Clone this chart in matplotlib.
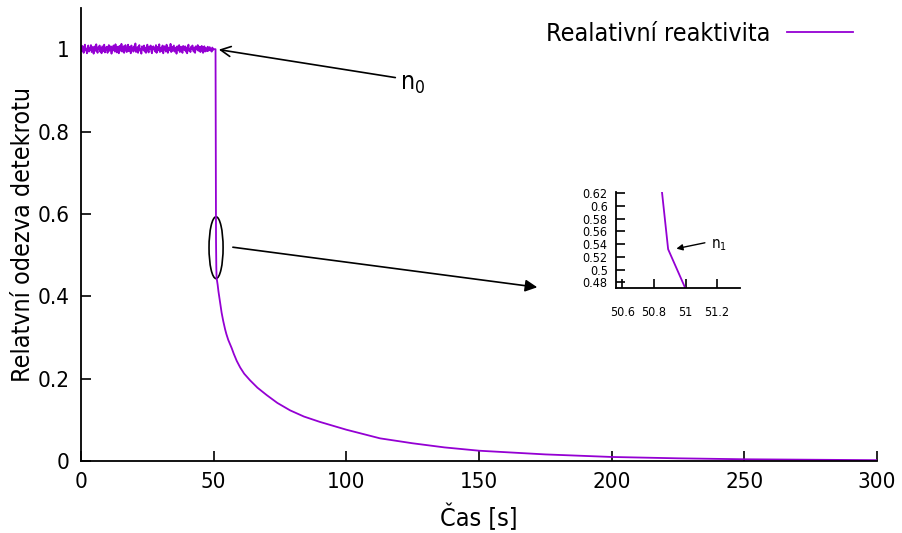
import numpy as np
import matplotlib
matplotlib.use("Agg")
import matplotlib.pyplot as plt
from matplotlib.patches import Ellipse

plt.rcParams["font.family"] = ["DejaVu Sans"]
plt.rcParams["font.stretch"] = "condensed"

# noise before the rod drop, deviations from 1 in thousandths (t = 0 .. 50)
noise_milli = [
    3, -5, 8, 1, -9, 6, 11, -3, 0, -10, 4, 9, -6, 2, -2, 10, -7, 0, 6, -11,
    1, 7, -4, 12, -3, -9, 5, 0, 9, -6, 3, -10, 7, 1, -5, 11, -8, 4, -1, 6,
    -9, 3, 10, -4, 0, 7, -11, 4, -3, 9, 1, -6, 12, -2, -8, 6, 3, -10, 8, 0,
    -4, 13, -6, 3, 7, -9, 1, 10, -3, -7, 4, 11, -5, 0, 6, -10, 9, -1, 3, -6,
    7, -3, 14, -7, 1, 5, -9, 6, 10, -4, 0, -11, 7, 3, -2, 9, -6, 4, -9, 1,
    11, -3, -8, 6, 0, 9, -5, -10, 3, 7, -1, 4, -6, 10, -9, 1, 6, -3, 12, -7,
    0, 4, -5, 9, -10, 3, 7, -1, -6, 11, 1, -9, 4, 0, -3, 13, -7, 6, -4, 3,
    9, -6, 0, 4, -11, 7, 1, -3, 10, -7, 3, 6, -4, -9, 8, 0, -2, 7, -6, 4,
    -10, 3, 11, -4, 1, -7, 6, 0, 9, -3, -6, 4, -9, 7, 3, -1, 10, -4, 0, 6,
    -7, 1, 8, -3, -9, 4, 7, -6, 3, 0, -5, 6, -4, 2, 5, -3, 1, -6, 4, -2,
    0,
]
t_flat = list(np.linspace(0, 50, len(noise_milli)))
v_flat = [1.0 + d / 1000.0 for d in noise_milli]

# prompt drop and slow decay
t_drop = [50.7, 50.8, 50.85, 50.89, 51.0, 51.1, 51.5, 51.8, 52.3, 52.7, 53.0,
          53.6, 54.3, 54.8, 55.5, 56.8, 57.6, 58.7, 60.0, 61.5, 63.7, 66.5,
          70.0, 74.0, 78.8, 84.0, 90.0, 100.0, 112.7, 125.0, 137.0, 150.0,
          175.0, 200.0, 225.0, 250.0, 275.0, 300.0]
v_drop = [1.0, 0.74, 0.624, 0.532, 0.47, 0.445, 0.428, 0.412, 0.390, 0.374, 0.360,
          0.340, 0.320, 0.308, 0.294, 0.274, 0.260, 0.243, 0.227, 0.212, 0.196, 0.178,
          0.160, 0.141, 0.123, 0.108, 0.095, 0.076, 0.055, 0.043, 0.033, 0.025,
          0.016, 0.0098, 0.0065, 0.0042, 0.003, 0.002]

t_all = t_flat + t_drop
v_all = v_flat + v_drop

purple = "#9400D3"

fig = plt.figure(figsize=(9.02, 5.33), dpi=100)
ax = fig.add_axes([81 / 902, 72 / 533, 796 / 902, 453 / 533])
ax.plot(t_all, v_all, color=purple, lw=1.3, label="Realativní reaktivita")
ax.set_xlim(0, 300)
ax.set_ylim(0, 1.1)
ax.set_xticks([0, 50, 100, 150, 200, 250, 300])
ax.set_yticks([0, 0.2, 0.4, 0.6, 0.8, 1.0])
ax.set_yticklabels(["0", "0.2", "0.4", "0.6", "0.8", "1"])
for s in ("top", "right"):
    ax.spines[s].set_visible(False)
for s in ("left", "bottom"):
    ax.spines[s].set_linewidth(1.3)
ax.tick_params(direction="in", length=7, width=1.2, labelsize=16, pad=8)
ax.set_xlabel("Čas [s]", fontsize=18, labelpad=8)
ax.set_ylabel("Relatvní odezva detekrotu", fontsize=18, labelpad=2)

leg = ax.legend(loc="upper right", bbox_to_anchor=(853 / 902, 511 / 533),
                bbox_transform=fig.transFigure, frameon=False, markerfirst=False,
                fontsize=18, handlelength=2.65, handletextpad=0.65,
                borderpad=0, borderaxespad=0)

ax.annotate("", xy=(50.9, 1.0), xytext=(119.5, 0.93),
            arrowprops=dict(arrowstyle="->", color="black", lw=1.2,
                            mutation_scale=18))
ax.text(120.3, 0.915, "n$_0$", fontsize=18, ha="left", va="center")

ax.add_patch(Ellipse((50.9, 0.518), width=5.3, height=0.15, fill=False,
                     edgecolor="black", lw=1.2))
ax.annotate("", xy=(173, 0.421), xytext=(56.2, 0.52),
            arrowprops=dict(arrowstyle="-|>", color="black", lw=1.2,
                            mutation_scale=18))

# zoomed inset around the kink
ins = fig.add_axes([616 / 902, 245 / 533, 124 / 902, 96 / 533])
ins.plot(t_all, v_all, color=purple, lw=1.3)
ins.set_xlim(50.56, 51.345)
ins.set_ylim(0.471, 0.622)
ins.set_xticks([50.6, 50.8, 51.0, 51.2])
ins.set_xticklabels(["50.6", "50.8", "51", "51.2"])
ins.set_yticks([0.48, 0.5, 0.52, 0.54, 0.56, 0.58, 0.6, 0.62])
ins.set_yticklabels(["0.48", "0.5", "0.52", "0.54", "0.56", "0.58", "0.6", "0.62"])
for s in ("top", "right"):
    ins.spines[s].set_visible(False)
for s in ("left", "bottom"):
    ins.spines[s].set_linewidth(1.3)
ins.tick_params(direction="in", length=6.5, width=1.2, labelsize=9)
ins.tick_params(axis="y", pad=6)
ins.tick_params(axis="x", pad=13)
ins.annotate("", xy=(50.925, 0.532), xytext=(51.14, 0.543),
             arrowprops=dict(arrowstyle="-|>", color="black", lw=1.0,
                             mutation_scale=9))
ins.text(51.16, 0.539, "n$_1$", fontsize=11, ha="left", va="center")

fig.savefig("out.png", dpi=100)
